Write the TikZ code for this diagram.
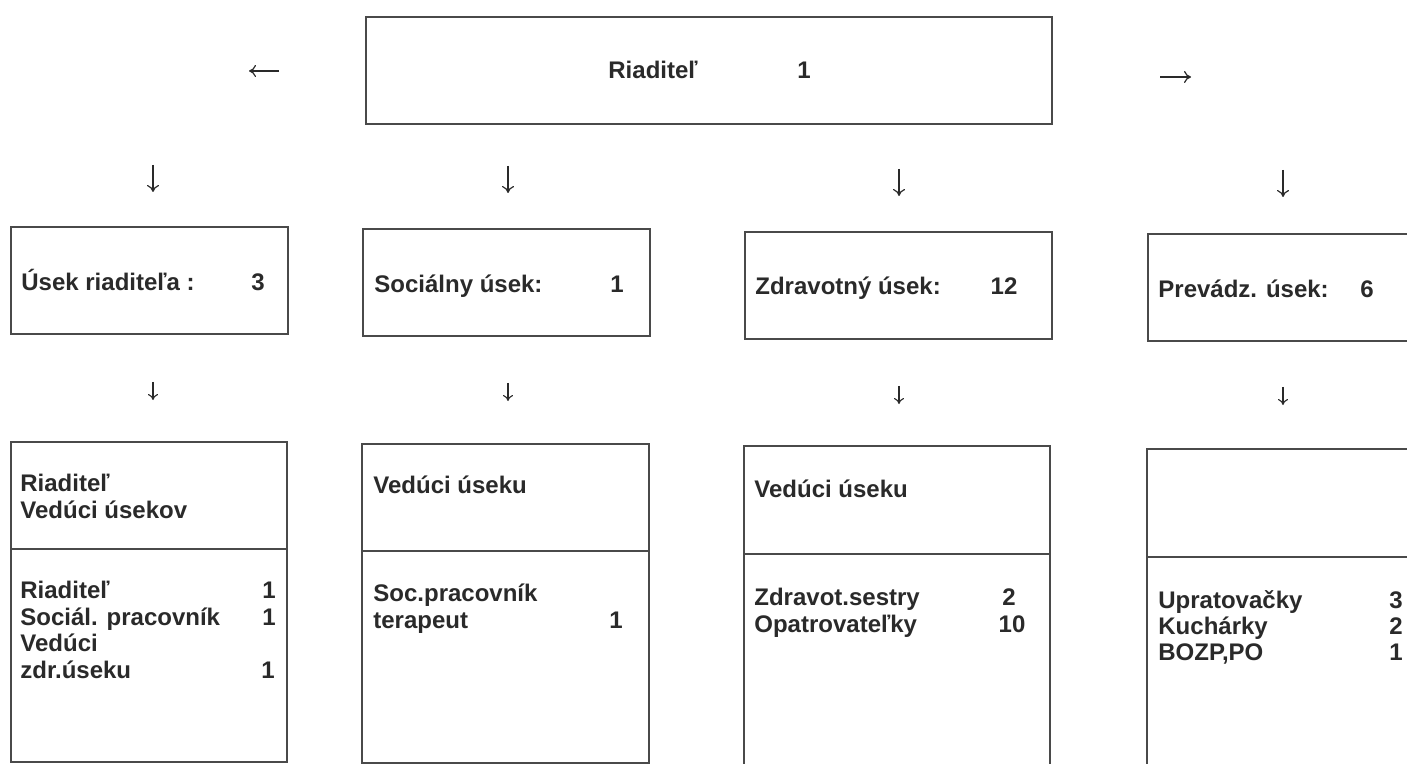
\documentclass[tikz,border=0pt]{standalone}
\usepackage{fontspec}
\setmainfont{Liberation Sans}
\usetikzlibrary{fit,arrows.meta}
\definecolor{ink}{HTML}{2A2A2A}
\definecolor{rule}{HTML}{4A4A4A}
\begin{document}
\begin{tikzpicture}[x=0.5pt,y=-0.5pt,
  box/.style={draw=rule, line width=1pt, inner sep=0pt},
  txt/.style={anchor=base west, inner sep=0pt, text=ink, font=\fontsize{12pt}{13pt}\selectfont\bfseries},
  num/.style={anchor=base, inner sep=0pt, text=ink, font=\fontsize{12pt}{13pt}\selectfont\bfseries},
  arr/.style={draw=ink, line width=0.6pt, -{To[length=3.5pt,width=6pt]}},
  sarr/.style={draw=ink, line width=0.55pt, -{To[length=3pt,width=5pt]}}]
\useasboundingbox (0,0) rectangle (1407,764);
\clip (0,0) rectangle (1407,764);
\fill[white] (0,0) rectangle (1407,764);

% top box
\node[box, fit={(366,17) (1052,124)}] (dir) {};
\node[txt] (dirt) at (608,79) {Riaditeľ};
\node[num] (dirn) at (804,79) {1};

% side arrows
\coordinate (ls) at (279,71); \coordinate (le) at (249,71);
\coordinate (rs) at (1160,77); \coordinate (re) at (1191,77);
\draw[arr] (ls) -- (le);
\draw[arr] (rs) -- (re);

% first row arrows
\coordinate (a1s) at (153,165); \coordinate (a1e) at (153,192);
\coordinate (a2s) at (508,166); \coordinate (a2e) at (508,193);
\coordinate (a3s) at (899,169); \coordinate (a3e) at (899,196);
\coordinate (a4s) at (1283,170); \coordinate (a4e) at (1283,197);
\draw[arr] (a1s) -- (a1e);
\draw[arr] (a2s) -- (a2e);
\draw[arr] (a3s) -- (a3e);
\draw[arr] (a4s) -- (a4e);

% first row boxes
\node[box, fit={(11,227) (288,334)}] (u1) {};
\node[box, fit={(363,229) (650,336)}] (u2) {};
\node[box, fit={(745,232) (1052,339)}] (u3) {};
\node[box, fit={(1148,234) (1420,341)}] (u4) {};
\node[txt] (u1t) at (21,291) {Úsek riaditeľa :};
\node[num] (u1n) at (258,291) {3};
\node[txt] (u2t) at (374,293) {Sociálny úsek:};
\node[num] (u2n) at (617,293) {1};
\node[txt] (u3t) at (755,295) {Zdravotný úsek:};
\node[num] (u3n) at (1004,295) {12};
\node[txt] (u4t) at (1158,298) {Prevádz. úsek:};
\node[num] (u4n) at (1367,298) {6};

% second row arrows
\coordinate (b1s) at (153,382); \coordinate (b1e) at (153,400);
\coordinate (b2s) at (508,383); \coordinate (b2e) at (508,401);
\coordinate (b3s) at (899,386); \coordinate (b3e) at (899,404);
\coordinate (b4s) at (1283,387); \coordinate (b4e) at (1283,405);
\draw[sarr] (b1s) -- (b1e);
\draw[sarr] (b2s) -- (b2e);
\draw[sarr] (b3s) -- (b3e);
\draw[sarr] (b4s) -- (b4e);

% second row boxes
\node[box, fit={(11,442) (287,549)}] (h1) {};
\node[box, fit={(11,549) (287,762)}] (l1) {};
\node[box, fit={(362,444) (649,551)}] (h2) {};
\node[box, fit={(362,551) (649,763)}] (l2) {};
\node[box, fit={(744,446) (1050,554)}] (h3) {};
\node[box, fit={(744,554) (1050,775)}] (l3) {};
\node[box, fit={(1147,449) (1420,557)}] (h4) {};
\node[box, fit={(1147,557) (1420,775)}] (l4) {};

% box 1 texts
\node[txt] (h1a) at (20,491) {Riaditeľ};
\node[txt] (h1b) at (20,518) {Vedúci úsekov};
\node[txt] (l1a) at (20,598) {Riaditeľ};
\node[num] (l1an) at (269,598) {1};
\node[txt] (l1b) at (20,625) {Sociál. pracovník};
\node[num] (l1bn) at (269,625) {1};
\node[txt] (l1c) at (20,651) {Vedúci};
\node[txt] (l1d) at (20,678) {zdr.úseku};
\node[num] (l1dn) at (268,678) {1};

% box 2 texts
\node[txt] (h2a) at (373,493) {Vedúci úseku};
\node[txt] (l2a) at (373,601) {Soc.pracovník};
\node[txt] (l2b) at (373,628) {terapeut};
\node[num] (l2bn) at (616,628) {1};

% box 3 texts
\node[txt] (h3a) at (754,497) {Vedúci úseku};
\node[txt] (l3a) at (754,605) {Zdravot.sestry};
\node[num] (l3an) at (1009,605) {2};
\node[txt] (l3b) at (754,632) {Opatrovateľky};
\node[num] (l3bn) at (1012,632) {10};

% box 4 texts
\node[txt] (l4a) at (1158,608) {Upratovačky};
\node[num] (l4an) at (1396,608) {3};
\node[txt] (l4b) at (1158,634) {Kuchárky};
\node[num] (l4bn) at (1396,634) {2};
\node[txt] (l4c) at (1158,660) {BOZP,PO};
\node[num] (l4cn) at (1396,660) {1};
\end{tikzpicture}
\end{document}
